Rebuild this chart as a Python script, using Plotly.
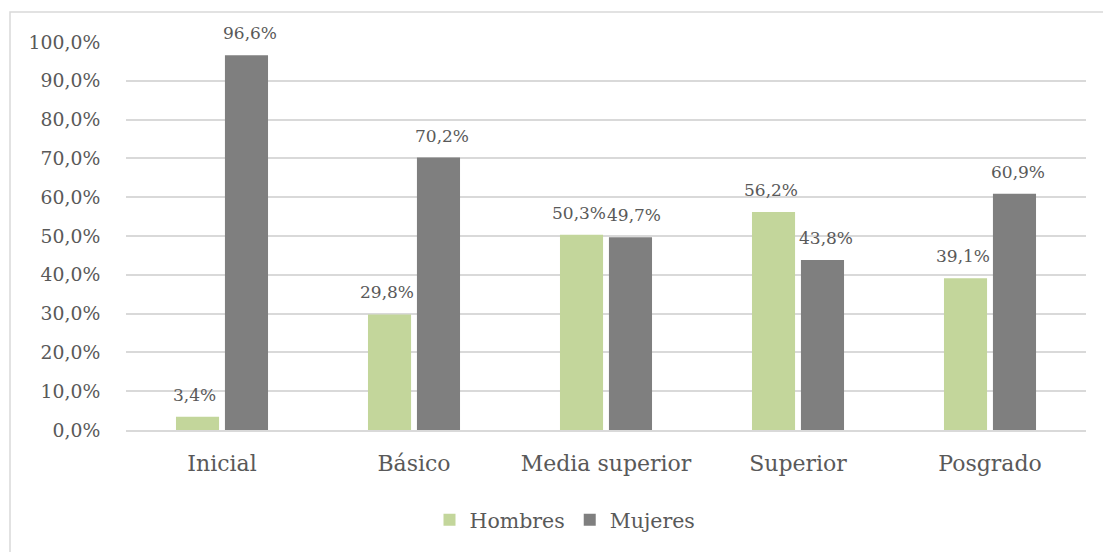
import plotly.graph_objects as go

categories = ["Inicial", "Básico", "Media superior", "Superior", "Posgrado"]
hombres = [0.034, 0.298, 0.503, 0.562, 0.391]
mujeres = [0.966, 0.702, 0.497, 0.438, 0.609]
series_names = ["Hombres", "Mujeres"]
colors = ["#C3D69B", "#7F7F7F"]
ytick_vals = [i / 10 for i in range(11)]

FONT = "DejaVu Serif"
TXT = "#595959"

fig = go.Figure()
for name, vals, col in zip(series_names, [hombres, mujeres], colors):
    fig.add_trace(go.Bar(name=name, x=categories, y=vals, marker_color=col,
                         marker_line_width=0, hoverinfo="skip"))

# data labels as annotations
offsets = [-27.5, 27.5]
for vals, off in zip([hombres, mujeres], offsets):
    for c, v in zip(categories, vals):
        fig.add_annotation(x=c, y=v, text=f"{v*100:.1f}%".replace(".", ","),
                           showarrow=False, xshift=off, yshift=10,
                           yanchor="bottom",
                           font=dict(family=FONT, size=17, color=TXT))

W, H = 1103, 552
L, R, T, B = 126, 17, 42, 122
pw, ph = W - L - R, H - T - B

def px_x(p):
    return (p - L) / pw

def px_y(p):
    return (H - B - p) / ph

fig.add_shape(type="rect", xref="paper", yref="paper",
              x0=px_x(10), x1=px_x(1130), y0=px_y(12), y1=px_y(600),
              line=dict(color="#D9D9D9", width=1.5), fillcolor="rgba(0,0,0,0)",
              layer="below")

fig.update_layout(
    width=W, height=H,
    margin=dict(l=L, r=R, t=T, b=B),
    paper_bgcolor="white", plot_bgcolor="white",
    separators=",.",
    barmode="group", bargap=0.49, bargroupgap=0.12,
    font=dict(family=FONT, color=TXT),
    showlegend=True,
    legend=dict(orientation="h", x=px_x(565), xanchor="center",
                y=px_y(520), yanchor="middle",
                font=dict(family=FONT, size=20.5, color=TXT),
                itemsizing="constant", traceorder="normal"),
    xaxis=dict(showline=True, linecolor="#D9D9D9", linewidth=1.5,
               ticks="outside", ticklen=13, tickcolor="rgba(0,0,0,0)",
               tickfont=dict(family=FONT, size=22, color=TXT),
               showgrid=False),
    yaxis=dict(range=[0, 1.0], tickvals=ytick_vals, tickformat=".1%",
               showgrid=True, gridcolor="#D9D9D9", gridwidth=1.5,
               zeroline=False, showline=False,
               ticks="outside", ticklen=21, tickcolor="rgba(0,0,0,0)",
               tickfont=dict(family=FONT, size=18.8, color=TXT)),
)

fig.write_html("out.html")
